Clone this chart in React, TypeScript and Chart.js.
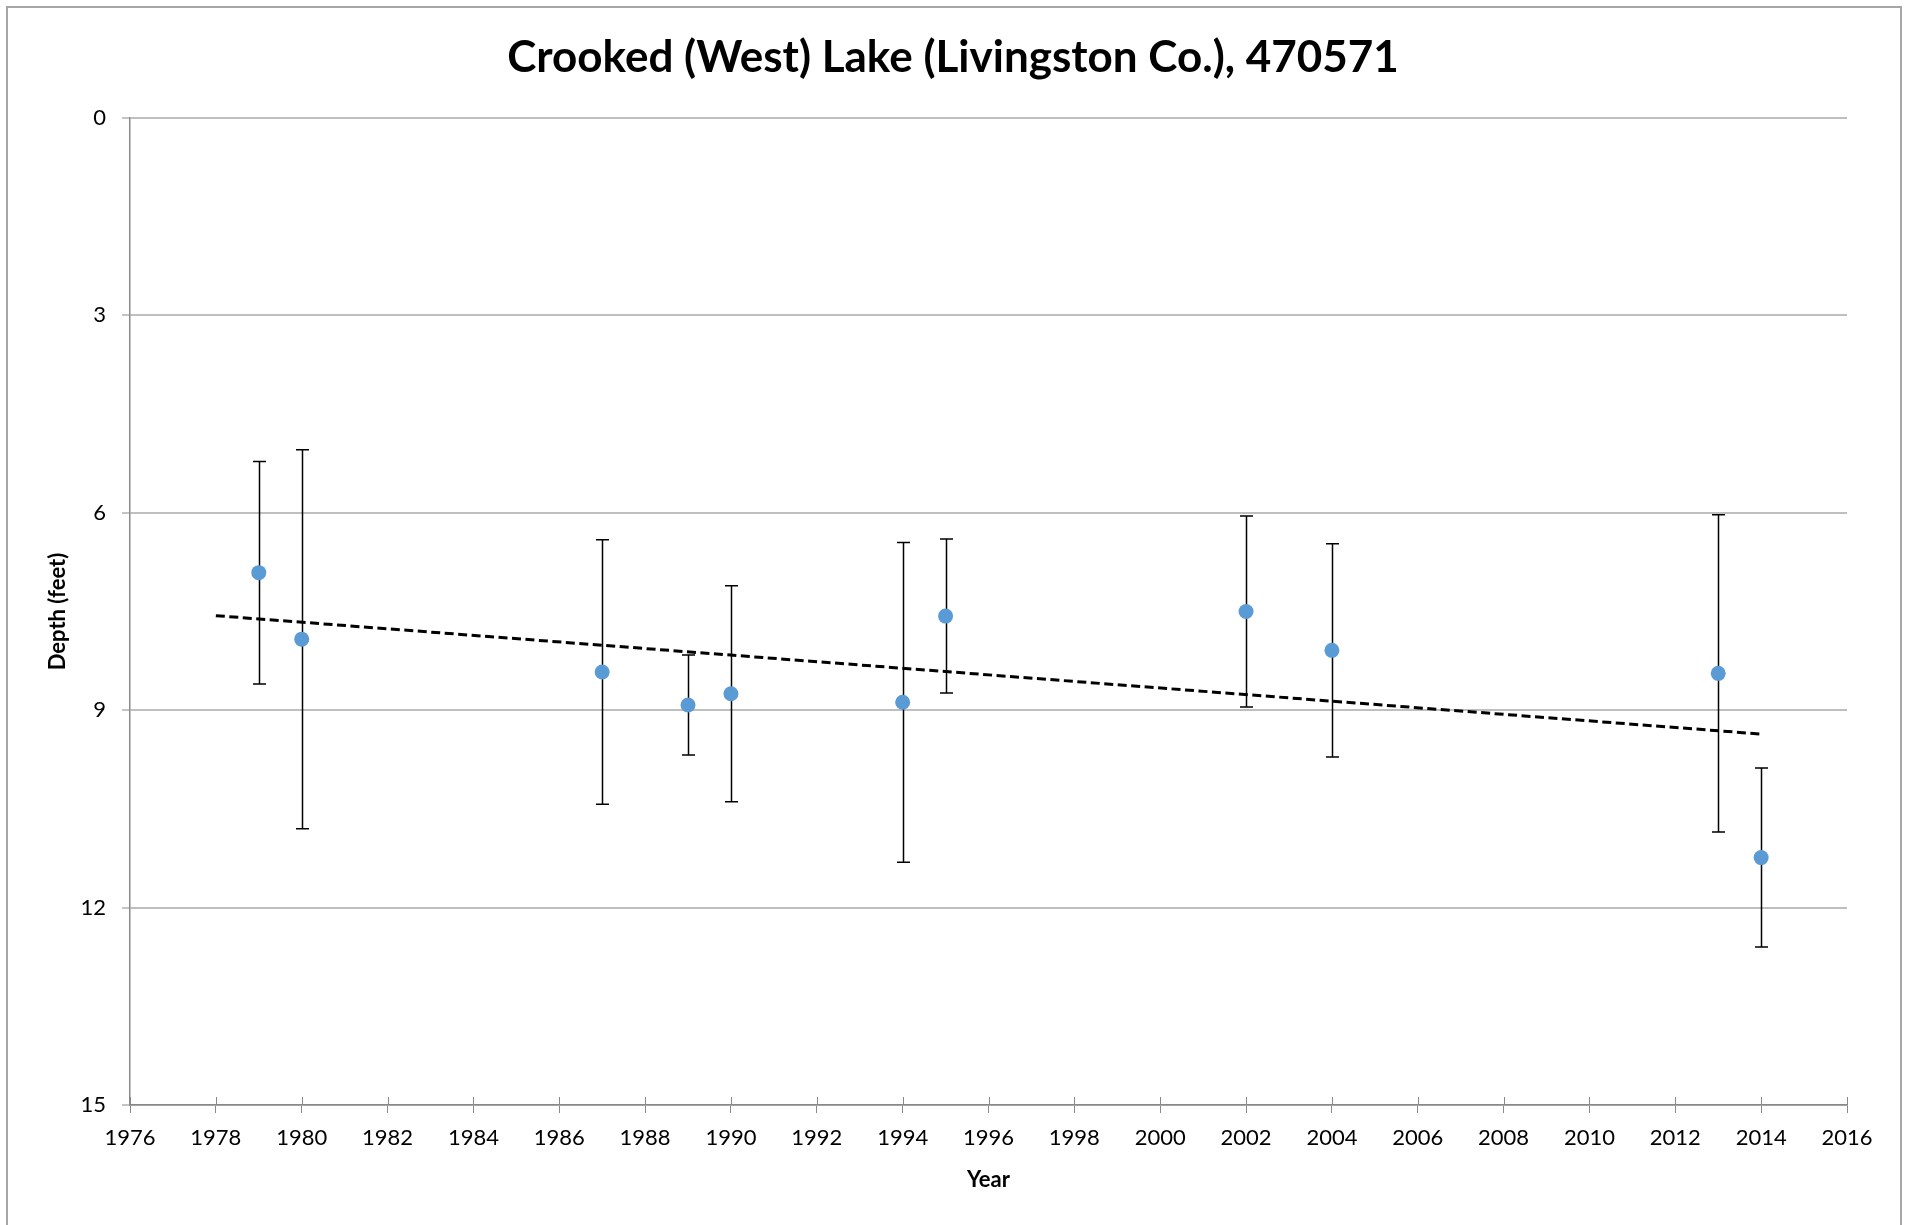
import React, { useEffect, useRef } from "react";
import { Chart, registerables } from "chart.js";

Chart.register(...registerables);

const TITLE = "Crooked (West) Lake (Livingston Co.), 470571";
const X_TITLE = "Year";
const Y_TITLE = "Depth (feet)";

const years = [1979, 1980, 1987, 1989, 1990, 1994, 1995, 2002, 2004, 2013, 2014];
const depths = [6.91, 7.92, 8.42, 8.92, 8.75, 8.88, 7.57, 7.5, 8.09, 8.44, 11.24];
const errors = [1.69, 2.88, 2.01, 0.76, 1.64, 2.43, 1.17, 1.45, 1.62, 2.41, 1.36];
const trendYears = [1978, 2014];

const xMin = 1976;
const xMax = 2016;
const xStep = 2;
const yMin = 0;
const yMax = 15;
const yStep = 3;

function linearFit(xs: number[], ys: number[]) {
  const n = xs.length;
  const mx = xs.reduce((a, b) => a + b, 0) / n;
  const my = ys.reduce((a, b) => a + b, 0) / n;
  let sxy = 0;
  let sxx = 0;
  for (let i = 0; i < n; i++) {
    sxy += (xs[i] - mx) * (ys[i] - my);
    sxx += (xs[i] - mx) * (xs[i] - mx);
  }
  const slope = sxy / sxx;
  return (x: number) => my + slope * (x - mx);
}

export default function App() {
  const ref = useRef<HTMLCanvasElement | null>(null);

  useEffect(() => {
    const canvas = ref.current;
    if (!canvas) return;
    const fit = linearFit(years, depths);
    const trend = trendYears.map((x) => ({ x, y: fit(x) }));
    const points = years.map((x, i) => ({ x, y: depths[i] }));

    const framePlugin = {
      id: "frame",
      beforeDraw(chart: any) {
        const ctx = chart.ctx;
        ctx.save();
        ctx.fillStyle = "#ffffff";
        ctx.fillRect(0, 0, chart.width, chart.height);
        ctx.strokeStyle = "#a6a6a6";
        ctx.lineWidth = 2;
        ctx.strokeRect(7, 7, 1894, 1300);
        ctx.restore();
      },
    };

    const centeredTitlePlugin = {
      id: "centeredTitle",
      afterDraw(chart: any) {
        const ctx = chart.ctx;
        ctx.save();
        ctx.fillStyle = "#000000";
        ctx.font = "bold 44px Lato";
        ctx.textAlign = "center";
        ctx.textBaseline = "middle";
        ctx.fillText(TITLE, chart.width / 2, 58);
        ctx.restore();
      },
    };

    const errorBarPlugin = {
      id: "errorBars",
      beforeDatasetsDraw(chart: any) {
        const ctx = chart.ctx;
        const xs = chart.scales.x;
        const ys = chart.scales.y;
        ctx.save();
        ctx.strokeStyle = "#000000";
        ctx.lineWidth = 1.5;
        years.forEach((yr, i) => {
          const px = Math.round(xs.getPixelForValue(yr)) + 0.5;
          const top = ys.getPixelForValue(depths[i] - errors[i]);
          const bot = ys.getPixelForValue(depths[i] + errors[i]);
          ctx.beginPath();
          ctx.moveTo(px, top);
          ctx.lineTo(px, bot);
          ctx.moveTo(px - 6.5, top);
          ctx.lineTo(px + 6.5, top);
          ctx.moveTo(px - 6.5, bot);
          ctx.lineTo(px + 6.5, bot);
          ctx.stroke();
        });
        ctx.restore();
      },
    };

    const innerTickPlugin = {
      id: "innerTicks",
      afterDraw(chart: any) {
        const ctx = chart.ctx;
        const xs = chart.scales.x;
        const bottom = chart.chartArea.bottom;
        ctx.save();
        ctx.strokeStyle = "#898989";
        ctx.lineWidth = 1;
        xs.ticks.forEach((t: any) => {
          const px = Math.round(xs.getPixelForValue(t.value)) + 0.5;
          ctx.beginPath();
          ctx.moveTo(px, bottom - 8);
          ctx.lineTo(px, bottom);
          ctx.stroke();
        });
        ctx.restore();
      },
    };

    const chart = new Chart(canvas, {
      type: "scatter",
      data: {
        datasets: [
          {
            type: "line",
            label: "Trend",
            data: trend,
            borderColor: "#000000",
            borderWidth: 3,
            borderDash: [9, 4.5],
            pointRadius: 0,
            fill: false,
            order: 2,
          } as any,
          {
            label: "Depth",
            data: points,
            backgroundColor: "#5b9bd5",
            borderColor: "#5b9bd5",
            borderWidth: 0,
            pointRadius: 7.5,
            pointHoverRadius: 7.5,
            order: 1,
          },
        ],
      },
      options: {
        animation: false,
        responsive: false,
        devicePixelRatio: 1,
        layout: { padding: { left: 0, right: 59, top: 118, bottom: 0 } },
        plugins: {
          legend: { display: false },
          tooltip: { enabled: false },
          title: { display: false },
        },
        scales: {
          x: {
            type: "linear",
            min: xMin,
            max: xMax,
            afterFit(scale: any) {
              scale.height = 120;
            },
            ticks: {
              stepSize: xStep,
              color: "#000000",
              font: { family: "Lato", size: 22 },
              padding: 12,
              maxRotation: 0,
              callback: (v: any) => String(v),
            },
            grid: {
              drawOnChartArea: false,
              drawTicks: true,
              tickLength: 8,
              tickColor: "#898989",
              color: "#898989",
            },
            border: { display: true, color: "#898989", width: 1.5 },
            title: {
              display: true,
              text: X_TITLE,
              color: "#000000",
              font: { family: "Lato", size: 22, weight: "bold" },
              padding: { top: 0, bottom: 32 },
            },
          },
          y: {
            type: "linear",
            reverse: true,
            min: yMin,
            max: yMax,
            afterFit(scale: any) {
              scale.width = 130;
            },
            ticks: {
              stepSize: yStep,
              color: "#000000",
              font: { family: "Lato", size: 22 },
              padding: 16,
              callback: (v: any) => String(v),
            },
            grid: {
              drawOnChartArea: true,
              drawTicks: true,
              tickLength: 8,
              color: "#bfbfbf",
              lineWidth: 2,
              tickColor: "#898989",
              tickWidth: 1,
            },
            border: { display: true, color: "#898989", width: 1.5 },
            title: {
              display: true,
              text: Y_TITLE,
              color: "#000000",
              font: { family: "Lato", size: 22, weight: "bold" },
              padding: { top: 45, bottom: 0 },
            },
          },
        },
      },
      plugins: [framePlugin, errorBarPlugin, innerTickPlugin, centeredTitlePlugin],
    });

    return () => chart.destroy();
  }, []);

  return (
    <div style={{ position: "fixed", left: 0, top: 0, width: 1906, height: 1225, background: "#ffffff" }}>
      <canvas ref={ref} width={1906} height={1225} style={{ display: "block", width: 1906, height: 1225 }} />
    </div>
  );
}
